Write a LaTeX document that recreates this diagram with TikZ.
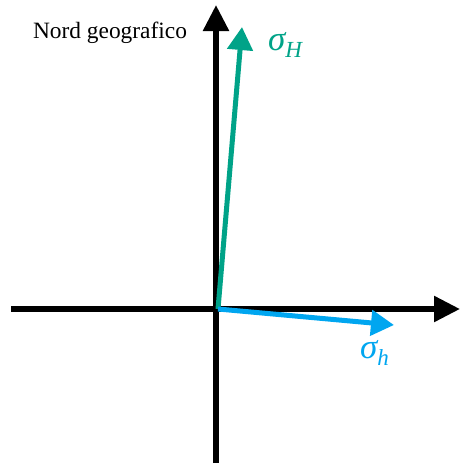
\documentclass[tikz,border=0pt]{standalone}
\usepackage{fontspec}
\setmainfont{Liberation Serif}
\usepackage{tikz}
\usetikzlibrary{arrows.meta,positioning}

\definecolor{stressH}{RGB}{0,163,136}
\definecolor{stressh}{RGB}{0,166,240}
\newcommand{\stresslbl}[2]{\itshape\fontsize{35}{38}\selectfont #1\raisebox{-7pt}{\fontsize{23}{26}\selectfont #2}}

\begin{document}
\begin{tikzpicture}[x=1pt,y=-1pt,
  axis/.style={line width=5.5pt, -{Triangle[length=26pt,width=25pt]}},
  stress/.style={line width=5pt, -{Triangle[length=23pt,width=25pt]}},
  lbl/.style={font=\fontsize{23.4}{28}\selectfont, inner sep=0pt}]
\useasboundingbox (0,0) rectangle (460,464);
% axes
\coordinate (W) at (11,309);
\coordinate (E) at (460,309);
\coordinate (S) at (216,463);
\coordinate (N) at (216,5);
\coordinate (O) at (218,309);
\draw[axis] (W) -- (E);
\draw[axis] (S) -- (N);
% stress directions
\coordinate (H) at (242,27);
\coordinate (h) at (394,325);
\draw[stress, color=stressH] (O) -- (H);
\draw[stress, color=stressh] (O) -- (h);
% labels
\node[lbl, anchor=base] (nord) at (110,38) {Nord geografico};
\node[lbl, color=stressH, anchor=base west] (sH) at (268,50) {\stresslbl{σ}{H}};
\node[lbl, color=stressh, anchor=base west] (sh) at (360,358) {\stresslbl{σ}{h}};
\end{tikzpicture}
\end{document}
